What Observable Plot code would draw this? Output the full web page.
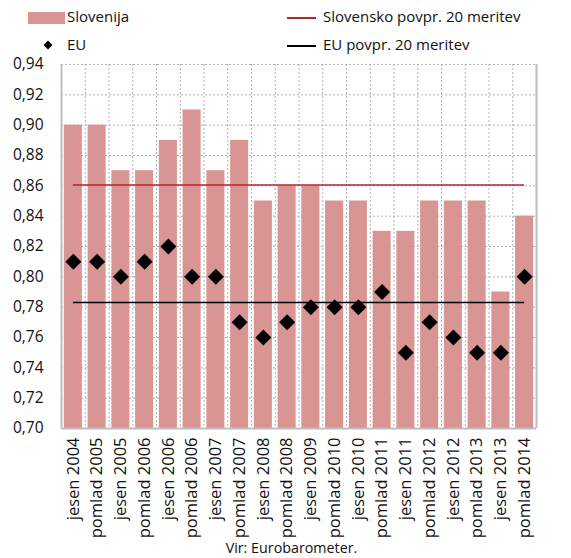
<!DOCTYPE html>
<html>
<head>
<meta charset="utf-8">
<script src="https://cdn.jsdelivr.net/npm/d3@7"></script>
<script src="https://cdn.jsdelivr.net/npm/@observablehq/plot@0.6"></script>
<style>
  body { margin: 0; background: #fff; font-family: "Open Sans", sans-serif; }
  #wrap { position: relative; width: 571px; height: 558px; }
  .lg { position: absolute; font-size: 15px; color: #111; line-height: 1; white-space: nowrap; }
  #chart { position: absolute; left: 0; top: 54px; }
  #caption { position: absolute; top: 538px; left: 6px; width: 571px; text-align: center; font-size: 14.3px; color: #111; }
</style>
</head>
<body>
<div id="wrap">
  <div style="position:absolute;left:28px;top:12px;width:37px;height:12px;background:#d99594"></div>
  <div class="lg" style="left:67px;top:9px">Slovenija</div>
  <svg style="position:absolute;left:41px;top:38px" width="14" height="14"><path d="M7,2.5L11.5,7L7,11.5L2.5,7Z" fill="#000"/></svg>
  <div class="lg" style="left:67px;top:37px">EU</div>
  <div style="position:absolute;left:287px;top:17px;width:29px;height:1.5px;background:#b3262b"></div>
  <div class="lg" style="left:323px;top:9px">Slovensko povpr. 20 meritev</div>
  <div style="position:absolute;left:287px;top:45px;width:29px;height:1.5px;background:#000"></div>
  <div class="lg" style="left:323px;top:37px">EU povpr. 20 meritev</div>
  <div id="chart"></div>
  <div id="caption">Vir: Eurobarometer.</div>
</div>
<script>
const periods = ["jesen 2004","pomlad 2005","jesen 2005","pomlad 2006","jesen 2006","pomlad 2006","jesen 2007","pomlad 2007","jesen 2008","pomlad 2008","jesen 2009","pomlad 2010","jesen 2010","pomlad 2011","jesen 2011","pomlad 2012","jesen 2012","pomlad 2013","jesen 2013","pomlad 2014"];
const slovenija = [0.90,0.90,0.87,0.87,0.89,0.91,0.87,0.89,0.85,0.86,0.86,0.85,0.85,0.83,0.83,0.85,0.85,0.85,0.79,0.84];
const eu = [0.81,0.81,0.80,0.81,0.82,0.80,0.80,0.77,0.76,0.77,0.78,0.78,0.78,0.79,0.75,0.77,0.76,0.75,0.75,0.80];
const sloAvg = 0.8605;
const euAvg = 0.783;
const yTicks = [0.70,0.72,0.74,0.76,0.78,0.80,0.82,0.84,0.86,0.88,0.90,0.92,0.94];

const rows = periods.map((p, i) => ({i, p, slo: slovenija[i], eu: eu[i]}));
const n = periods.length;
const bounds = d3.range(1, n);
const avgLines = [
  {v: sloAvg, c: "#b3262b"},
  {v: euAvg, c: "#000"}
];

const chart = Plot.plot({
  width: 571,
  height: 484,
  marginLeft: 61,
  marginRight: 35,
  marginTop: 10,
  marginBottom: 110,
  style: {fontFamily: "Open Sans, sans-serif", fontSize: "15px", color: "#111", overflow: "visible"},
  x: {domain: [0, n], axis: null},
  y: {domain: [0.70, 0.94], axis: null},
  marks: [
    Plot.ruleY(yTicks.slice(1), {stroke: "#b0b0b0", strokeDasharray: "2,2", strokeWidth: 1}),
    Plot.ruleX(bounds, {stroke: "#b0b0b0", strokeDasharray: "2,2", strokeWidth: 1}),
    Plot.rect(rows, {x1: d => d.i + 0.12, x2: d => d.i + 0.88, y1: 0.70, y2: "slo", fill: "#d99594"}),
    Plot.ruleY(avgLines, {y: "v", x1: 0.5, x2: n - 0.5, stroke: "c", strokeWidth: 1.5}),
    Plot.dot(rows, {x: d => d.i + 0.5, y: "eu", symbol: "diamond2", r: 7.2, fill: "#000"}),
    Plot.ruleX([0, n], {stroke: "#bdbdbd", strokeWidth: 2}),
    Plot.ruleY([0.70], {stroke: "#bdbdbd", strokeWidth: 2}),
    Plot.axisY({ticks: yTicks, tickSize: 0, tickPadding: 18, fontSize: 15.5, tickFormat: d => d3.format(".2f")(d).replace(".", ","), label: null}),
    Plot.axisX({ticks: d3.range(n).map(i => i + 0.5), tickSize: 0, tickPadding: 9, fontSize: 16.5, tickRotate: -90, tickFormat: d => periods[Math.round(d - 0.5)], label: null})
  ]
});
document.getElementById("chart").appendChild(chart);
</script>
</body>
</html>
